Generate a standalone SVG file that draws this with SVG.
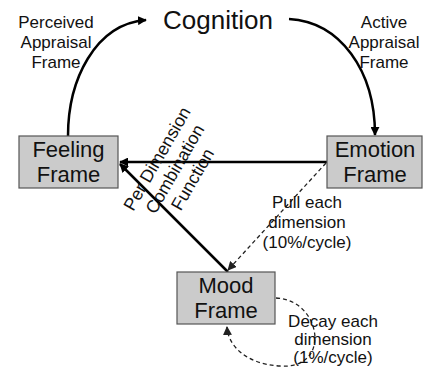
<svg xmlns="http://www.w3.org/2000/svg" width="425" height="372" viewBox="0 0 425 372">
<style>
text{font-family:"Liberation Sans",Arial,sans-serif;fill:#111}
.box{fill:#cbcbcb;stroke:#555;stroke-width:1.2}
.nt{font-size:22px;text-anchor:middle}
.lb{font-size:17px;text-anchor:middle}
.solid{fill:none;stroke:#000;stroke-width:2.5}
.dash{fill:none;stroke:#222;stroke-width:1.3;stroke-dasharray:4 3}
</style>
<defs>
<marker id="ah" viewBox="0 0 10 10" refX="9" refY="5" markerWidth="9" markerHeight="9" markerUnits="userSpaceOnUse" orient="auto"><path d="M0,0L10,5L0,10z" fill="#000"/></marker>
<marker id="ahs" viewBox="0 0 10 10" refX="9" refY="5" markerWidth="9" markerHeight="9" markerUnits="userSpaceOnUse" orient="auto"><path d="M0,0L10,5L0,10z" fill="#222"/></marker>
</defs>
<g id="connectors">
<path class="solid" d="M68,136 C68,80 95,24 146,20" marker-end="url(#ah)"/>
<path class="solid" d="M289,19 C340,22 375,70 375,135" marker-end="url(#ah)"/>
<path class="solid" d="M327,162 L120,162" marker-end="url(#ah)"/>
<path class="solid" d="M228,272 L120,164" marker-end="url(#ah)"/>
<path class="dash" d="M326,163 L228,270" marker-end="url(#ahs)"/>
<path class="dash" d="M276,298 C322,300 332,370 280,366 C245,364 228,345 227,327" marker-end="url(#ahs)"/>
</g>
<g id="cognition"><text x="218" y="29" style="font-size:26px" text-anchor="middle">Cognition</text></g>
<g id="feeling"><rect class="box" x="19" y="136" width="99" height="52"/><text class="nt" x="68.5" y="157">Feeling</text><text class="nt" x="68.5" y="182">Frame</text></g>
<g id="emotion"><rect class="box" x="327" y="136" width="95" height="52"/><text class="nt" x="375" y="157">Emotion</text><text class="nt" x="375" y="182">Frame</text></g>
<g id="mood"><rect class="box" x="177" y="272" width="98" height="52"/><text class="nt" x="226" y="293">Mood</text><text class="nt" x="226" y="318">Frame</text></g>
<g id="labels">
<text class="lb" x="56" y="28">Perceived<tspan x="56" y="48">Appraisal</tspan><tspan x="56" y="68">Frame</tspan></text>
<text class="lb" x="384" y="28">Active<tspan x="384" y="48">Appraisal</tspan><tspan x="384" y="68">Frame</tspan></text>
<text class="lb" x="307" y="208">Pull each<tspan x="307" y="228">dimension</tspan><tspan x="307" y="248">(10%/cycle)</tspan></text>
<text class="lb" x="333" y="327">Decay each<tspan x="333" y="345">dimension</tspan><tspan x="333" y="363">(1%/cycle)</tspan></text>
<text transform="translate(180,172) rotate(-60)" style="font-size:17.7px" text-anchor="middle"><tspan x="0" y="-20.5">Per Dimension</tspan><tspan x="0" y="0">Combination</tspan><tspan x="0" y="20.5">Function</tspan></text>
</g>
</svg>
